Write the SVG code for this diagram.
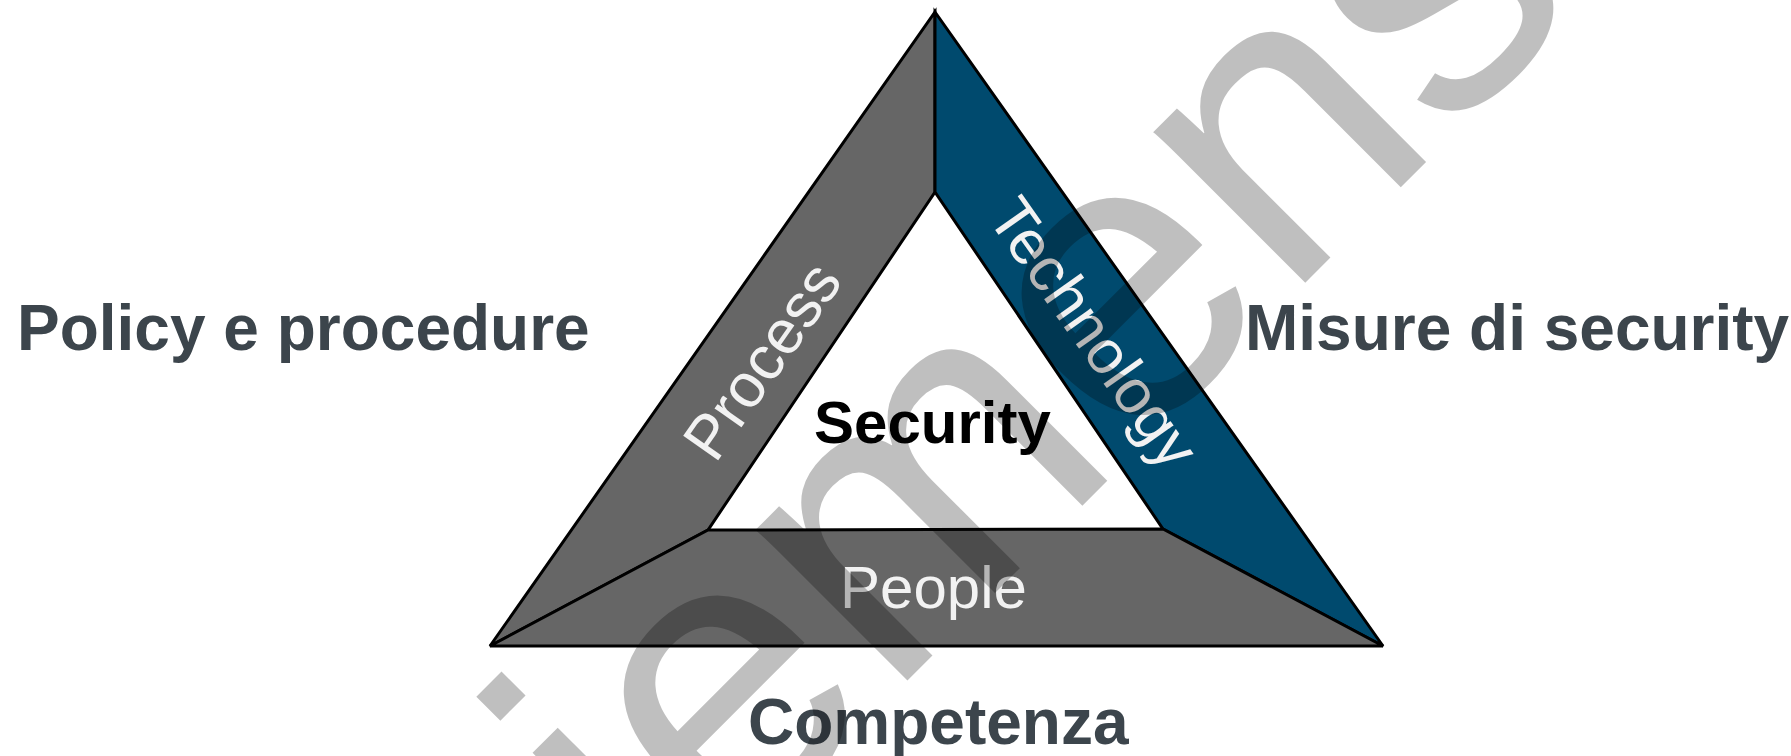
<svg xmlns="http://www.w3.org/2000/svg" width="1791" height="756" viewBox="0 0 1791 756">
<style>
.side{stroke:#000;stroke-width:3;stroke-linejoin:miter}
.gray{fill:#666666}
.blue{fill:#004a6e}
.band{font-family:"Liberation Sans",Arial,sans-serif;font-size:62px;fill:#f2f2f2}
.outer{font-family:"Liberation Sans",Arial,sans-serif;font-size:64px;font-weight:bold;fill:#3c454c}
.core{font-family:"Liberation Sans",Arial,sans-serif;font-size:60px;font-weight:bold;fill:#000}
.wm{font-family:"Liberation Sans",Arial,sans-serif;font-size:405px;fill:#000;fill-opacity:0.25}
</style>
<rect width="1791" height="756" fill="#fff"/>
<g id="process">
<polygon class="side gray" points="935,12 935,192 708,530 490,646"/>
<text class="band" text-anchor="middle" transform="translate(764,362) rotate(-54.9)" y="19">Process</text>
</g>
<g id="technology">
<polygon class="side blue" points="935,12 1383,646 1163,529 935,192"/>
<text class="band" text-anchor="middle" transform="translate(1092,334) rotate(54.75)" y="19">Technology</text>
</g>
<g id="people">
<polygon class="side gray" points="490,646 708,530 1163,529 1383,646"/>
<text class="band" style="font-size:60px" x="840" y="608">People</text>
</g>
<g id="security">
<text class="core" x="814" y="443">Security</text>
</g>
<g id="policy">
<text class="outer" x="17" y="350">Policy e procedure</text>
</g>
<g id="misure">
<text class="outer" x="1245" y="350">Misure di security</text>
</g>
<g id="competenza">
<text class="outer" x="748" y="744">Competenza</text>
</g>
<g id="connectors"/>
<g id="watermark">
<text class="wm" transform="translate(521.5,1066.5) rotate(-45)">siemens</text>
</g>
</svg>
